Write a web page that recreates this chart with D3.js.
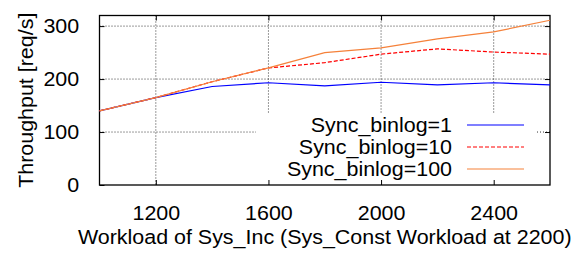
<!DOCTYPE html>
<html>
<head>
<meta charset="utf-8">
<script src="https://cdn.jsdelivr.net/npm/d3@7"></script>
<style>
  body { margin: 0; background: #fff; }
  text { font-family: "Liberation Sans", Arial, sans-serif; fill: #000; }
</style>
</head>
<body>
<div id="chart"></div>
<script>
//--------------------------- Data

var workload = [1000, 1200, 1400, 1600, 1800, 2000, 2200, 2400, 2600];
var sync1 = [140, 165, 186, 193, 187, 194, 189, 193, 189];
var sync10 = [140, 165, 195, 221, 231, 247, 257, 251, 247];
var sync100 = [140, 165, 195, 221, 250, 259, 276, 289, 311];
var seriesNames = ["Sync_binlog=1", "Sync_binlog=10", "Sync_binlog=100"];
var xTicks = [1200, 1600, 2000, 2400];
var yTicks = [0, 100, 200, 300];

//--------------------------- SVG definition

var width = 581;
var height = 254;
var fontSize = 19.5;
var stretch = "scale(1.1,1)";

var svg = d3.select("#chart")
    .append("svg")
    .attr("width", width)
    .attr("height", height);

var plotLeft = 99.5, plotRight = 550, plotTop = 15.5, plotBottom = 185;

var x = d3.scaleLinear().domain([1000, 2600]).range([plotLeft, plotRight]);
var y = d3.scaleLinear().domain([0, 320]).range([plotBottom, plotTop]);

var grid = svg.append("g");
var frame = svg.append("g");
var lines = svg.append("g");
var legend = svg.append("g");

//--------------------------- Grid (dotted), hidden behind the legend box

var legendBox = { x0: 256, x1: 537, y0: 114 };

function gridLine(x1, x2, y1, y2) {
    grid.append("line")
        .attr("x1", x1).attr("x2", x2)
        .attr("y1", y1).attr("y2", y2)
        .attr("stroke", "#000")
        .attr("stroke-width", 0.8)
        .attr("stroke-dasharray", "1,2");
}

xTicks.forEach(function (t) {
    var yEnd = (x(t) > legendBox.x0 && x(t) < legendBox.x1) ? legendBox.y0 : plotBottom;
    gridLine(x(t), x(t), plotTop, yEnd);
});

yTicks.slice(1).forEach(function (t) {
    var yy = y(t);
    if (yy > legendBox.y0) {
        gridLine(plotLeft, legendBox.x0, yy, yy);
        gridLine(legendBox.x1, plotRight, yy, yy);
    } else {
        gridLine(plotLeft, plotRight, yy, yy);
    }
});

//--------------------------- Axes with inward, mirrored ticks

frame.append("g")
    .attr("transform", "translate(0," + plotBottom + ")")
    .call(d3.axisBottom(x).tickValues(xTicks).tickFormat(d3.format("d"))
        .tickSizeInner(-5).tickSizeOuter(0).tickPadding(21))
    .call(function (g) { g.select(".domain").remove(); });

frame.append("g")
    .attr("transform", "translate(0," + plotTop + ")")
    .call(d3.axisTop(x).tickValues(xTicks).tickSizeInner(-5).tickSizeOuter(0).tickFormat(""))
    .call(function (g) { g.select(".domain").remove(); });

frame.append("g")
    .attr("transform", "translate(" + plotLeft + ",0)")
    .call(d3.axisLeft(y).tickValues(yTicks).tickFormat(d3.format("d"))
        .tickSizeInner(-5).tickSizeOuter(0).tickPadding(18.5))
    .call(function (g) { g.select(".domain").remove(); });

frame.append("g")
    .attr("transform", "translate(" + plotRight + ",0)")
    .call(d3.axisRight(y).tickValues(yTicks.slice(1)).tickSizeInner(-5).tickSizeOuter(0).tickFormat(""))
    .call(function (g) { g.select(".domain").remove(); });

frame.selectAll(".tick text")
    .attr("font-family", "Liberation Sans, Arial, sans-serif")
    .attr("font-size", fontSize)
    .attr("fill", "#000")
    .attr("transform", stretch);

frame.selectAll(".tick line").attr("stroke", "#000");

frame.append("rect")
    .attr("x", plotLeft).attr("y", plotTop)
    .attr("width", plotRight - plotLeft).attr("height", plotBottom - plotTop)
    .attr("fill", "none")
    .attr("stroke", "#000")
    .attr("stroke-width", 1.3);

//--------------------------- Axis titles

svg.append("text")
    .attr("transform", "translate(" + ((plotLeft + plotRight) / 2) + ",244) " + stretch)
    .attr("text-anchor", "middle")
    .attr("font-size", fontSize)
    .text("Workload of Sys_Inc (Sys_Const Workload at 2200)");

svg.append("text")
    .attr("transform", "translate(33," + (plotTop + plotBottom) / 2 + ") rotate(-90) " + stretch)
    .attr("text-anchor", "middle")
    .attr("font-size", fontSize)
    .text("Throughput [req/s]");

//--------------------------- Lines

var series = [
    { name: seriesNames[0], values: sync1, color: "#0000ff", dash: null },
    { name: seriesNames[1], values: sync10, color: "#ff0000", dash: "4,2" },
    { name: seriesNames[2], values: sync100, color: "#f5813a", dash: null }
];

var line = d3.line()
    .x(function (d, i) { return x(workload[i]); })
    .y(function (d) { return y(d); });

series.forEach(function (s) {
    lines.append("path")
        .datum(s.values)
        .attr("d", line)
        .attr("fill", "none")
        .attr("stroke", s.color)
        .attr("stroke-width", 1.2)
        .attr("stroke-dasharray", s.dash);
});

//--------------------------- Legend

series.forEach(function (s, k) {
    var ly = 125 + k * 22;
    legend.append("text")
        .attr("transform", "translate(452," + ly + ") " + stretch)
        .attr("dy", "0.35em")
        .attr("text-anchor", "end")
        .attr("font-size", fontSize)
        .text(s.name);
    legend.append("line")
        .attr("x1", 467).attr("x2", 524)
        .attr("y1", ly).attr("y2", ly)
        .attr("stroke", s.color)
        .attr("stroke-width", 1.2)
        .attr("stroke-dasharray", s.dash);
});
</script>
</body>
</html>
